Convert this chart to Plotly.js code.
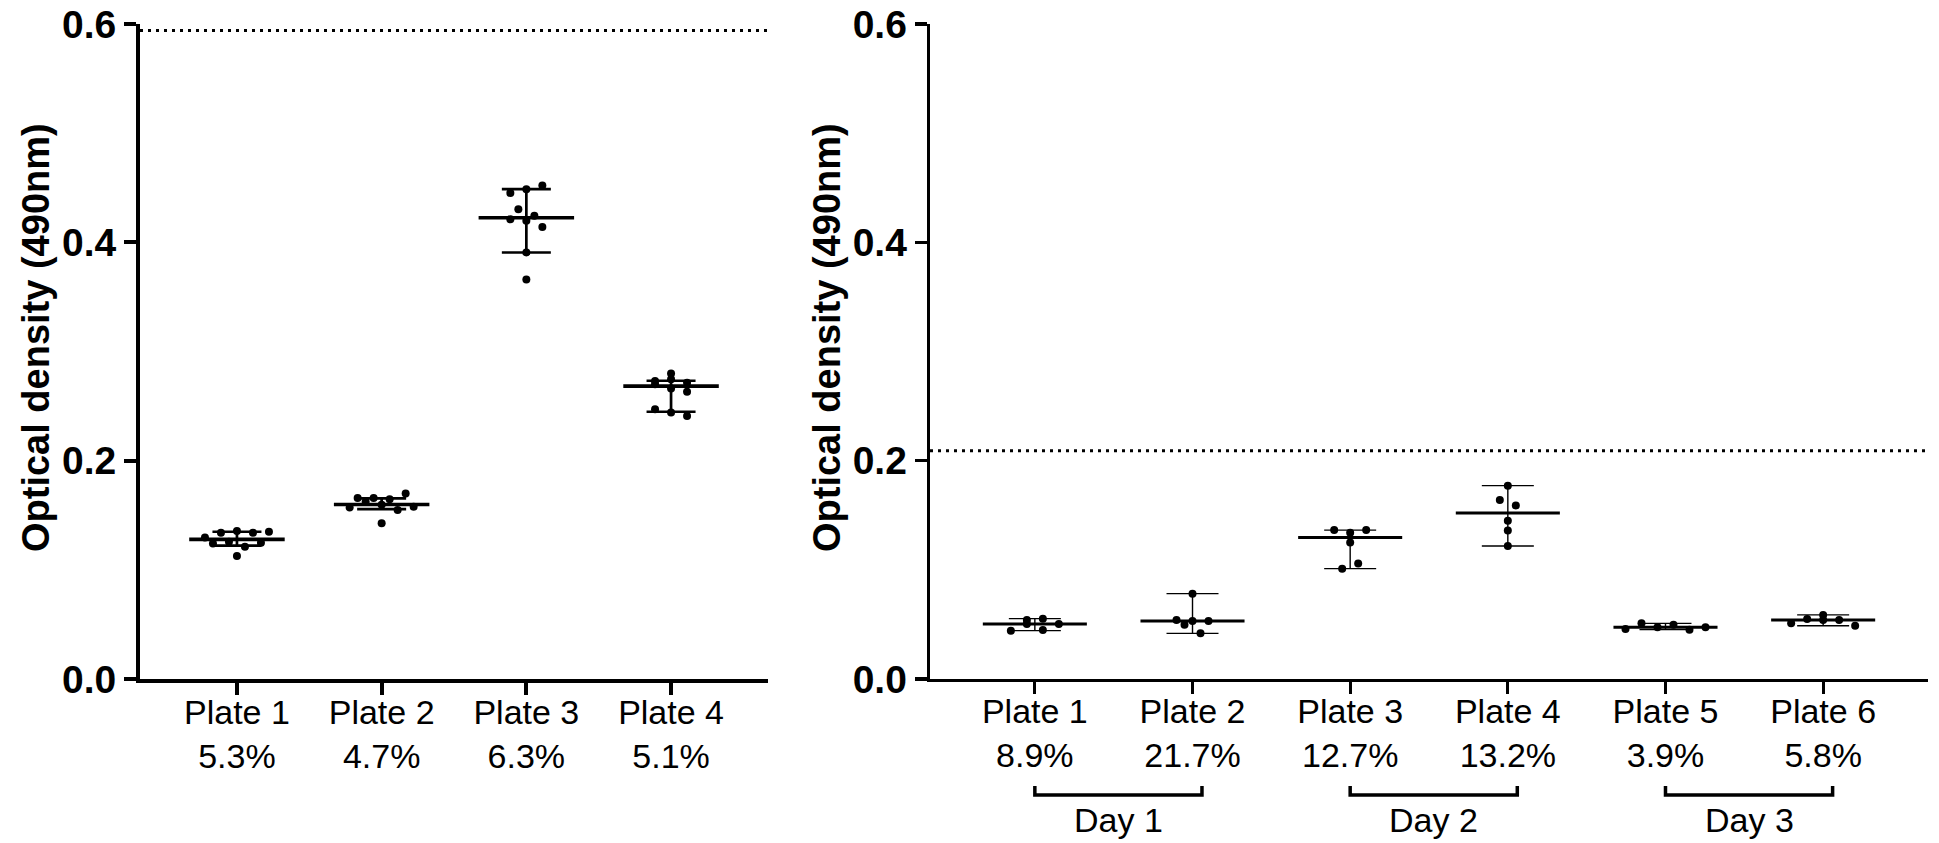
<!DOCTYPE html>
<html>
<head>
<meta charset="utf-8">
<script src="https://cdn.plot.ly/plotly-3.0.1.min.js"></script>
<style>html,body{margin:0;padding:0;background:#fff;}#chart{width:1939px;height:843px;}</style>
</head>
<body>
<div id="chart"></div>
<script>
// ---------------- DATA ----------------
const leftPlates = ['Plate 1', 'Plate 2', 'Plate 3', 'Plate 4'];
const leftCV = ['5.3%', '4.7%', '6.3%', '5.1%'];
const leftPlate1 = [0.1297, 0.1340, 0.1355, 0.1340, 0.1349, 0.1242, 0.1257, 0.1212, 0.1248, 0.1127];
const leftPlate2 = [0.1658, 0.1658, 0.1572, 0.1624, 0.1597, 0.1646, 0.1548, 0.1700, 0.1578, 0.1426];
const leftPlate3 = [0.4453, 0.4487, 0.4520, 0.4304, 0.4212, 0.4243, 0.4197, 0.4141, 0.3907, 0.3660];
const leftPlate4 = [0.2729, 0.2799, 0.2745, 0.2699, 0.2714, 0.2662, 0.2631, 0.2472, 0.2442, 0.2409];
const leftCenter = [0.1279, 0.1599, 0.4225, 0.2683];
const leftLow    = [0.1221, 0.1557, 0.3907, 0.2448];
const leftHigh   = [0.1349, 0.1655, 0.4487, 0.2732];
const leftCutoff = 0.594;

const rightPlates = ['Plate 1', 'Plate 2', 'Plate 3', 'Plate 4', 'Plate 5', 'Plate 6'];
const rightCV = ['8.9%', '21.7%', '12.7%', '13.2%', '3.9%', '5.8%'];
const rightPlate1 = [0.0540, 0.0443, 0.0503, 0.0553, 0.0449, 0.0503];
const rightPlate2 = [0.0540, 0.0531, 0.0531, 0.0497, 0.0782, 0.0418];
const rightPlate3 = [0.1364, 0.1340, 0.1364, 0.1251, 0.1011, 0.1059];
const rightPlate4 = [0.1771, 0.1639, 0.1590, 0.1450, 0.1361, 0.1218];
const rightPlate5 = [0.0458, 0.0510, 0.0473, 0.0497, 0.0452, 0.0473];
const rightPlate6 = [0.0510, 0.0550, 0.0540, 0.0540, 0.0587, 0.0488];
const rightCenter = [0.0503, 0.0531, 0.1297, 0.1520, 0.0473, 0.0540];
const rightLow    = [0.0443, 0.0418, 0.1011, 0.1218, 0.0452, 0.0488];
const rightHigh   = [0.0553, 0.0782, 0.1364, 0.1771, 0.0510, 0.0587];
const rightCutoff = 0.209;

const dayLabels = ['Day 1', 'Day 2', 'Day 3'];
const dayFirstPlate = [0, 2, 4];
const dayLastPlate = [1, 3, 5];

const yTickVals = [0, 0.2, 0.4, 0.6];
const yTitle = 'Optical density (490nm)';

// ---------------- LAYOUT CONSTANTS ----------------
const W = 1939, H = 843, TOP = 24, BOTTOM = 164;
const PLOT_H = H - TOP - BOTTOM;
const Y_RANGE = [0, 0.6];
const LEFT_PX = [140, 768], RIGHT_PX = [930, 1928];
const LEFT_RANGE = [-0.67, leftPlates.length - 1 + 0.67];
const RIGHT_RANGE = [-0.665, rightPlates.length - 1 + 0.665];
const FONT = 'Liberation Sans, Arial, Helvetica, sans-serif';

const pxPerY = PLOT_H / (Y_RANGE[1] - Y_RANGE[0]);
const pxPerX = (px, r) => (px[1] - px[0]) / (r[1] - r[0]);
const paperY = (py) => (H - BOTTOM - py) / PLOT_H;
const paperX = (px) => px / W;

// deterministic scatter-dot arrangement (rows of overlapping dots spread symmetrically)
function swarm(vals, center, stepUnits, rowThr) {
  const order = vals.map((v, i) => i).sort((a, b) => vals[a] - vals[b]);
  const rows = [];
  let cur = [];
  order.forEach(i => {
    if (cur.length && vals[i] - vals[cur[0]] > rowThr) { rows.push(cur); cur = []; }
    cur.push(i);
  });
  if (cur.length) rows.push(cur);
  const xs = new Array(vals.length);
  rows.forEach(r => {
    const k = r.length;
    r.slice().sort((a, b) => a - b).forEach((i, j) => { xs[i] = center + (j - (k - 1) / 2) * stepUnits; });
  });
  return xs;
}

function panelTraces(groups, center, low, high, xa, ya, pxRange, range, style) {
  const ppx = pxPerX(pxRange, range);
  const step = 16 / ppx;
  const thr = 9 / pxPerY;
  const px = [], py = [];
  groups.forEach((g, i) => {
    const xs = swarm(g, i, step, thr);
    g.forEach((v, j) => { px.push(xs[j]); py.push(v); });
  });
  const lx = [], ly = [];
  center.forEach((c, i) => { lx.push(i - 0.33, i + 0.33, null); ly.push(c, c, null); });
  const idx = center.map((c, i) => i);
  return [
    { type: 'scatter', mode: 'markers', x: idx, y: center, xaxis: xa, yaxis: ya,
      marker: { size: 1, opacity: 0 }, hoverinfo: 'skip',
      error_y: { type: 'data', symmetric: false,
        array: high.map((h, i) => h - center[i]), arrayminus: low.map((l, i) => center[i] - l),
        width: style.capHalf, thickness: style.errW, color: '#000' } },
    { type: 'scatter', mode: 'lines', x: lx, y: ly, xaxis: xa, yaxis: ya,
      line: { color: '#000', width: style.centerW }, hoverinfo: 'skip', connectgaps: false },
    { type: 'scatter', mode: 'markers', x: px, y: py, xaxis: xa, yaxis: ya,
      marker: { size: 8, color: '#000', line: { width: 0 } }, hoverinfo: 'skip' }
  ];
}

const traces = [].concat(
  panelTraces([leftPlate1, leftPlate2, leftPlate3, leftPlate4], leftCenter, leftLow, leftHigh,
    'x', 'y', LEFT_PX, LEFT_RANGE, { capHalf: 24.5, errW: 2.7, centerW: 3.6 }),
  panelTraces([rightPlate1, rightPlate2, rightPlate3, rightPlate4, rightPlate5, rightPlate6],
    rightCenter, rightLow, rightHigh, 'x2', 'y2', RIGHT_PX, RIGHT_RANGE, { capHalf: 26, errW: 1.4, centerW: 3 })
);

function yAxis(anchor, lw) {
  return {
    domain: [0, 1], anchor: anchor, range: Y_RANGE, tickvals: yTickVals, tickformat: '.1f',
    showgrid: false, zeroline: false, showline: true, linecolor: '#000', linewidth: lw,
    ticks: 'outside', ticklen: 12, tickwidth: lw, tickcolor: '#000',
    tickfont: { family: FONT, size: 39, color: '#000', weight: 'bold' }, fixedrange: true
  };
}
function xAxis(anchor, pxRange, range, names, cvs, lw) {
  return {
    domain: [paperX(pxRange[0]), paperX(pxRange[1])], anchor: anchor, range: range,
    tickvals: names.map((n, i) => i), ticktext: names.map((n, i) => n + '<br>' + cvs[i]),
    showgrid: false, zeroline: false, showline: true, linecolor: '#000', linewidth: lw,
    ticks: 'outside', ticklen: 12, tickwidth: lw, tickcolor: '#000', ticklabelstandoff: -12,
    tickfont: { family: FONT, size: 34, color: '#000' }, fixedrange: true
  };
}

const shapes = [
  { type: 'line', xref: 'x', yref: 'y', x0: LEFT_RANGE[0], x1: LEFT_RANGE[1], y0: leftCutoff, y1: leftCutoff,
    line: { color: '#000', width: 3, dash: '3px,5px' } },
  { type: 'line', xref: 'x2', yref: 'y2', x0: RIGHT_RANGE[0], x1: RIGHT_RANGE[1], y0: rightCutoff, y1: rightCutoff,
    line: { color: '#000', width: 3, dash: '3px,5px' } }
];
const bracketTop = paperY(786), bracketBot = paperY(795), bracketExt = 0.06;
dayLabels.forEach((d, i) => {
  const x0 = dayFirstPlate[i], x1 = dayLastPlate[i] + bracketExt;
  shapes.push({ type: 'path', xref: 'x2', yref: 'paper',
    path: `M ${x0},${bracketTop} L ${x0},${bracketBot} L ${x1},${bracketBot} L ${x1},${bracketTop}`,
    line: { color: '#000', width: 3.5 } });
});

const annotations = [
  { xref: 'paper', yref: 'paper', x: paperX(36), y: paperY(338), text: yTitle, textangle: -90,
    showarrow: false, xanchor: 'center', yanchor: 'middle',
    font: { family: FONT, size: 38, color: '#000', weight: 'bold' } },
  { xref: 'paper', yref: 'paper', x: paperX(827), y: paperY(338), text: yTitle, textangle: -90,
    showarrow: false, xanchor: 'center', yanchor: 'middle',
    font: { family: FONT, size: 38, color: '#000', weight: 'bold' } }
];
dayLabels.forEach((d, i) => {
  annotations.push({ xref: 'x2', yref: 'paper', x: (dayFirstPlate[i] + dayLastPlate[i] + bracketExt) / 2,
    y: paperY(820), text: d, showarrow: false, xanchor: 'center', yanchor: 'middle',
    font: { family: FONT, size: 34, color: '#000' } });
});

const layout = {
  width: W, height: H, margin: { l: 0, r: 0, t: TOP, b: BOTTOM, pad: 0 },
  paper_bgcolor: '#fff', plot_bgcolor: '#fff', showlegend: false,
  xaxis: xAxis('y', LEFT_PX, LEFT_RANGE, leftPlates, leftCV, 4),
  yaxis: yAxis('x', 4),
  xaxis2: xAxis('y2', RIGHT_PX, RIGHT_RANGE, rightPlates, rightCV, 3.3),
  yaxis2: yAxis('x2', 3.3),
  shapes: shapes, annotations: annotations
};
Plotly.newPlot('chart', traces, layout, { displayModeBar: false, staticPlot: true });
</script>
</body>
</html>
